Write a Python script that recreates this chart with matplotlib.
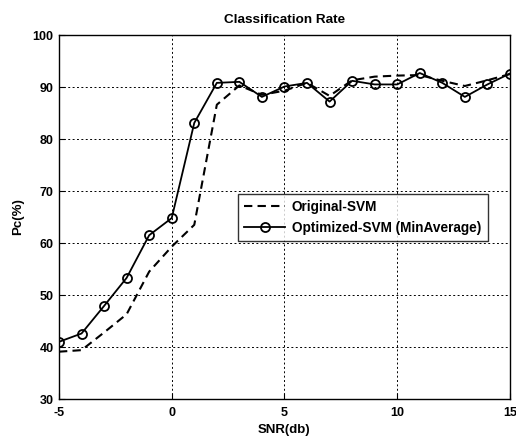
import matplotlib

matplotlib.use("Agg")
import matplotlib.pyplot as plt
import numpy as np

snr_db = np.arange(-5, 16)
original_svm = [39.1, 39.4, 42.8, 46.3, 54.5, 59.3, 63.5, 86.6, 90.3, 88.5, 89.3,
                90.8, 88.3, 91.3, 92.0, 92.2, 92.3, 91.2, 90.2, 91.3, 92.5]
optimized_svm = [41.0, 42.6, 47.9, 53.3, 61.5, 64.8, 83.1, 90.8, 91.0, 88.1, 90.1,
                 90.8, 87.2, 91.2, 90.5, 90.5, 92.7, 90.8, 88.1, 90.5, 92.6]

x_ticks = [-5, 0, 5, 10, 15]
y_ticks = [30, 40, 50, 60, 70, 80, 90, 100]

plt.rcParams["font.family"] = ["Liberation Sans", "DejaVu Sans"]
plt.rcParams["font.weight"] = "bold"
plt.rcParams["axes.unicode_minus"] = False

fig = plt.figure(figsize=(5.16, 4.38), dpi=100)
ax = fig.add_axes([0.1143, 0.089, 0.874, 0.831])

ax.plot(snr_db, original_svm, color="black", linestyle=(0, (4, 2.5)),
        linewidth=1.5, label="Original-SVM")
ax.plot(snr_db, optimized_svm, color="black", linestyle="-", linewidth=1.3,
        marker="o", markersize=6.5, markerfacecolor="none", markeredgewidth=1.3,
        label="Optimized-SVM (MinAverage)")

ax.set_xlim(-5, 15)
ax.set_ylim(30, 100)
ax.set_xticks(x_ticks)
ax.set_yticks(y_ticks)
ax.tick_params(direction="in", length=4, width=0.8, labelsize=9)
ax.tick_params(axis="x", pad=6)
ax.tick_params(axis="y", pad=4)
for lbl in ax.get_xticklabels() + ax.get_yticklabels():
    lbl.set_fontweight("bold")

ax.grid(True, color="black", linestyle=(0, (2, 2.5)), linewidth=0.7)
for spine in ax.spines.values():
    spine.set_linewidth(1.0)

ax.set_title("Classification Rate", fontsize=9.7, fontweight="bold", pad=9)
ax.set_xlabel("SNR(db)", fontsize=9.5, fontweight="bold", labelpad=3)
ax.set_ylabel("Pc(%)", fontsize=9.5, fontweight="bold", labelpad=6)

leg = ax.legend(loc="upper left", bbox_to_anchor=(0.397, 0.44, 0.555, 0.124),
                mode="expand", fontsize=9.8, frameon=True, fancybox=False,
                borderpad=0.45, handlelength=3.0, handletextpad=0.5,
                labelspacing=0.5, borderaxespad=0)
leg.get_frame().set_edgecolor("black")
leg.get_frame().set_linewidth(1.0)
for txt in leg.get_texts():
    txt.set_fontweight("bold")

fig.savefig("out.png", dpi=100)
